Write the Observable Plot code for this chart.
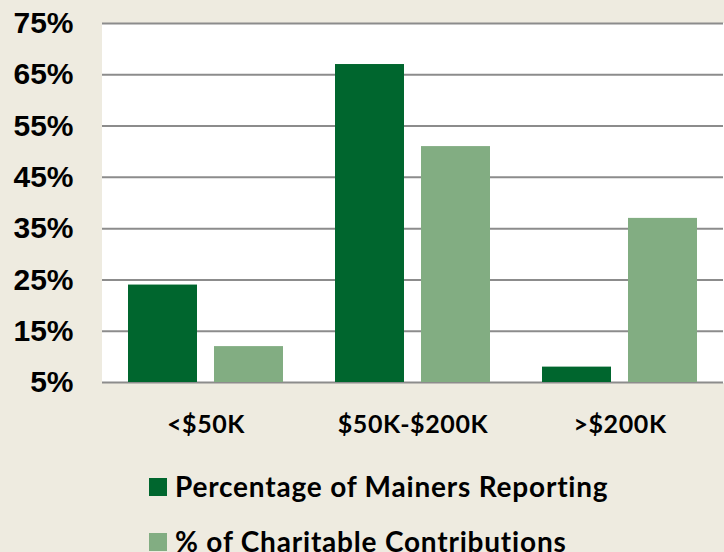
<!DOCTYPE html>
<html>
<head>
<meta charset="utf-8">
<script src="https://cdn.jsdelivr.net/npm/d3@7"></script>
<script src="https://cdn.jsdelivr.net/npm/@observablehq/plot@0.6"></script>
<style>
  html, body { margin: 0; padding: 0; background: #EEEBE0; }
  #wrap { position: relative; width: 724px; height: 552px; overflow: hidden; }
  .sw { position: absolute; left: 149px; width: 18px; height: 18px; }
  .lt { position: absolute; left: 175px; font: bold 28px Lato, sans-serif; letter-spacing: 0.8px; line-height: 28px; color: #000; white-space: nowrap; }
  svg [aria-label="fx-axis tick label"] text { letter-spacing: 0.6px; }
</style>
</head>
<body>
<div id="wrap"></div>
<script>
const categories = ["<$50K", "$50K-$200K", ">$200K"];
const seriesNames = ["Percentage of Mainers Reporting", "% of Charitable Contributions"];
const mainersReporting = [24, 67, 8];
const charitableContributions = [12, 51, 37];
const yTicks = [5, 15, 25, 35, 45, 55, 65, 75];
const seriesColors = ["#00662E", "#82AD82"];

const rows = [];
categories.forEach((c, i) => {
  rows.push({category: c, series: seriesNames[0], value: mainersReporting[i]});
  rows.push({category: c, series: seriesNames[1], value: charitableContributions[i]});
});

const W = 724, H = 455;
const chart = Plot.plot({
  width: W,
  height: H,
  marginLeft: 101,
  marginRight: 0,
  marginTop: 23,
  marginBottom: H - 382,
  style: {background: "transparent", overflow: "visible"},
  fx: {domain: categories, padding: 0, axis: null},
  x: {domain: seriesNames, paddingInner: 0.1965, paddingOuter: 0.30, axis: null},
  y: {domain: [5, 75], axis: null},
  color: {domain: seriesNames, range: seriesColors},
  marks: [
    Plot.frame({fill: "white", stroke: "white", strokeWidth: 1}),
    Plot.ruleY(yTicks, {stroke: "#8C8C8C", strokeWidth: 2}),
    Plot.barY(rows, {fx: "category", x: "series", y1: 5, y2: "value", fill: "series"}),
    Plot.axisY(yTicks, {
      tickSize: 0, tickPadding: 29, tickFormat: d => d + "%",
      fontSize: 30, fontWeight: "bold", fontFamily: "Liberation Sans, Arial, sans-serif",
      fill: "#000", label: null
    }),
    Plot.axisFx({
      anchor: "bottom", tickSize: 0, tickPadding: 33,
      fontSize: 25, fontWeight: "bold", fontFamily: "Lato, sans-serif",
      fill: "#000", label: null
    })
  ]
});

const wrap = document.getElementById("wrap");
wrap.appendChild(chart);

const legendTops = [478, 533];
const textTops = [472, 527];
seriesNames.forEach((s, i) => {
  const sw = document.createElement("div");
  sw.className = "sw";
  sw.style.top = legendTops[i] + "px";
  sw.style.background = seriesColors[i];
  wrap.appendChild(sw);
  const t = document.createElement("div");
  t.className = "lt";
  t.style.top = textTops[i] + "px";
  t.textContent = s;
  wrap.appendChild(t);
});
</script>
</body>
</html>
